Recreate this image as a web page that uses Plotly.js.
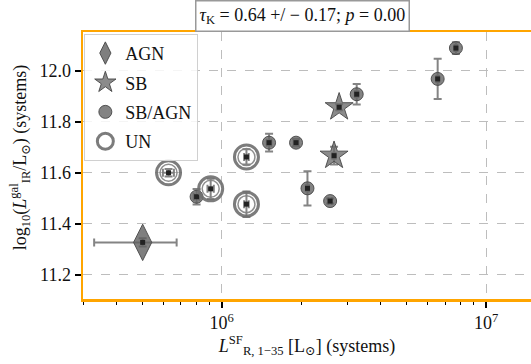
<!DOCTYPE html>
<html>
<head>
<meta charset="utf-8">
<script src="https://cdn.plot.ly/plotly-3.0.1.min.js"></script>
<style>html,body{margin:0;padding:0;background:#fff;}#chart{width:531px;height:364px;}</style>
</head>
<body>
<div id="chart"></div>
<script>
// AGN
const agnX = [5.02e5];
const agnY = [11.327];
const agnXerr = [1.73e5];
const agnYerr = [0.016];
// SB
const sbX = [2.78e6, 2.66e6];
const sbY = [11.857, 11.667];
const sbXerr = [4e4, 4e4];
const sbYerr = [0.012, 0.035];
// SB/AGN
const mixX = [8.03e5, 1.51e6, 1.91e6, 2.11e6, 2.57e6, 3.24e6, 6.56e6, 7.69e6];
const mixY = [11.506, 11.718, 11.718, 11.539, 11.489, 11.908, 11.968, 12.089];
const mixXerr = [2e4, 3e4, 4e4, 3e4, 4e4, 5e4, 8e4, 1e5];
const mixYerr = [0.03, 0.035, 0.015, 0.067, 0.01, 0.04, 0.079, 0.023];
// UN
const unX = [6.29e5, 9.08e5, 1.24e6, 1.24e6];
const unY = [11.60, 11.537, 11.662, 11.477];
const unXerr = [3e4, 2.5e4, 2.5e4, 2.5e4];
const unYerr = [0.015, 0.04, 0.03, 0.05];

const legendNames = ['AGN', 'SB', 'SB/AGN', 'UN'];

const serif = '"Liberation Serif", "Times New Roman", "DejaVu Serif", serif';
const errCol = 'rgba(110,110,110,0.85)';

function err(a){ return {type:'data', array:a, visible:true, color:errCol, thickness:2, width:4}; }

function centers(x, y, g){
  return {x:x, y:y, type:'scatter', mode:'markers', legendgroup:g, showlegend:false,
    marker:{symbol:'square', size:5, color:'#222'}, hoverinfo:'skip'};
}

const traces = [
  {x:agnX, y:agnY, name:legendNames[0], legendgroup:'a', type:'scatter', mode:'markers',
   error_x:err(agnXerr), error_y:err(agnYerr),
   marker:{symbol:'diamond-tall', size:26, color:'rgba(95,95,95,0.8)', line:{color:'rgba(70,70,70,0.9)', width:1}}},
  centers(agnX, agnY, 'a'),
  {x:sbX, y:sbY, name:legendNames[1], legendgroup:'b', type:'scatter', mode:'markers',
   error_x:err(sbXerr), error_y:err(sbYerr),
   marker:{symbol:'star', size:21, color:'rgba(110,110,110,0.8)', line:{color:'rgba(70,70,70,0.9)', width:1}}},
  centers(sbX, sbY, 'b'),
  {x:mixX, y:mixY, name:legendNames[2], legendgroup:'c', type:'scatter', mode:'markers',
   error_x:err(mixXerr), error_y:err(mixYerr),
   marker:{symbol:'circle', size:13, color:'rgba(100,100,100,0.8)', line:{color:'rgba(70,70,70,0.9)', width:1}}},
  centers(mixX, mixY, 'c'),
  {x:unX, y:unY, name:legendNames[3], legendgroup:'d', type:'scatter', mode:'markers',
   error_x:err(unXerr), error_y:err(unYerr),
   marker:{symbol:'circle', size:24, color:'rgba(255,255,255,0)', line:{color:'rgba(110,110,110,0.9)', width:3}}},
  {x:unX, y:unY, legendgroup:'d', showlegend:false, type:'scatter', mode:'markers', hoverinfo:'skip',
   marker:{symbol:'circle-open', size:17, color:'rgba(130,130,130,0.9)', line:{width:1.5}}},
  centers(unX, unY, 'd')
];

const minorVals = [];
for (const d of [1e5, 1e6, 1e7]) for (let k = 2; k <= 9; k++) minorVals.push(k*d);

const layout = {
  width:531, height:364,
  margin:{l:83, r:0, t:32, b:65},
  paper_bgcolor:'#fff', plot_bgcolor:'#fff',
  font:{family:serif, size:17, color:'#111'},
  showlegend:true,
  legend:{x:0.003, y:0.993, xanchor:'left', yanchor:'top', bgcolor:'rgba(255,255,255,0.85)',
          bordercolor:'#d0d0d0', borderwidth:1, font:{family:serif, size:18}, itemsizing:'trace', tracegroupgap:3},
  xaxis:{type:'log', range:[5.475, 7.17], showline:true, mirror:true, linecolor:'#FFA500', linewidth:2.5,
         tickvals:[1e6, 1e7], ticktext:['10<sup>6</sup>','10<sup>7</sup>'],
         ticks:'outside', ticklen:6, tickwidth:1.5, tickcolor:'#000',
         showgrid:true, gridcolor:'#bdbdbd', griddash:'dash', gridwidth:1, zeroline:false,
         minor:{tickvals:minorVals, ticks:'outside', ticklen:3.5, tickwidth:1, tickcolor:'#000', showgrid:false},
         tickfont:{family:serif, size:18},
         title:{text:'<i>L</i><sup>SF</sup><sub>R, 1\u221235</sub> [L<sub>\u2299</sub>] (systems)', font:{family:serif, size:18}, standoff:5}},
  yaxis:{range:[11.105, 12.152], showline:true, mirror:true, linecolor:'#FFA500', linewidth:2.5,
         tickvals:[11.2, 11.4, 11.6, 11.8, 12.0], ticktext:['11.2','11.4','11.6','11.8','12.0'],
         ticks:'outside', ticklen:6, tickwidth:1.5, tickcolor:'#000',
         showgrid:true, gridcolor:'#bdbdbd', griddash:'dash', gridwidth:1, zeroline:false,
         tickfont:{family:serif, size:18}},
  annotations:[
   {xref:'paper', yref:'paper', x:0.491, y:1.06, xanchor:'center', yanchor:'middle', showarrow:false,
    text:'<i>\u03c4</i><sub>K</sub> = 0.64 +/ \u2212 0.17; <i>p</i> = 0.00', font:{family:serif, size:18, color:'#111'},
    bordercolor:'#999', borderwidth:1.5, borderpad:3, bgcolor:'#fff'},
   {xref:'paper', yref:'paper', x:-0.141, y:0.53, xanchor:'center', yanchor:'middle', showarrow:false, textangle:-90,
    text:'log<sub>10</sub>(<i>L</i><sup>gal</sup><sub>IR</sub>/L<sub>\u2299</sub>) (systems)', font:{family:serif, size:18, color:'#111'}}
  ]
};

Plotly.newPlot('chart', traces, layout, {displayModeBar:false, staticPlot:true});
</script>
</body>
</html>
